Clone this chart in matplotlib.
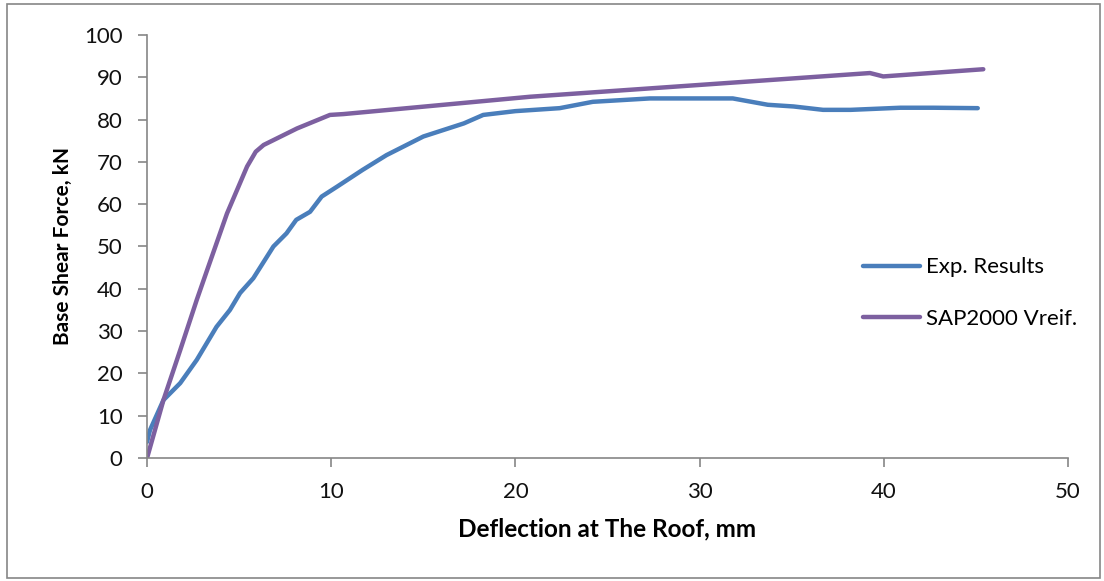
import matplotlib
matplotlib.use("Agg")
import matplotlib.pyplot as plt
from matplotlib.patches import Rectangle

plt.rcParams['font.family'] = ['Lato', 'DejaVu Sans']

# Experimental pushover curve
exp_x = [0.0, 0.16, 0.89, 1.8, 2.7, 3.77, 4.5, 5.05, 5.77, 6.86, 7.57, 8.1,
         8.85, 9.48, 10.3, 11.7, 13.0, 15.0, 17.2, 18.25, 20.0, 22.4, 24.2,
         27.3, 31.8, 33.7, 35.1, 36.7, 38.2, 40.9, 42.7, 45.1]
exp_y = [3.8, 6.6, 13.7, 17.7, 23.2, 31.0, 35.0, 39.0, 42.5, 50.0, 53.1, 56.3,
         58.2, 61.8, 64.1, 68.1, 71.6, 76.0, 79.1, 81.1, 82.0, 82.7, 84.2,
         85.0, 85.0, 83.5, 83.1, 82.3, 82.3, 82.8, 82.8, 82.7]

# SAP2000 verification curve
sap_x = [0.0, 0.89, 1.8, 2.7, 3.26, 4.34, 5.43, 5.9, 6.33, 8.14, 9.93, 10.66,
         20.8, 39.25, 39.97, 45.4]
sap_y = [0.0, 13.7, 25.5, 37.4, 44.4, 57.8, 68.9, 72.4, 74.0, 77.9, 81.1, 81.3,
         85.4, 91.0, 90.2, 91.9]

x_ticks = [0, 10, 20, 30, 40, 50]
y_ticks = [0, 10, 20, 30, 40, 50, 60, 70, 80, 90, 100]

fig = plt.figure(figsize=(11.04, 5.81), dpi=100)
ax = fig.add_axes([0.1332, 0.2117, 0.8342, 0.7281])

ax.plot(exp_x, exp_y, color='#4a7ebb', lw=3.2, solid_joinstyle='round',
        solid_capstyle='round', label='Exp. Results')
ax.plot(sap_x, sap_y, color='#7d60a0', lw=3.2, solid_joinstyle='round',
        solid_capstyle='round', label='SAP2000 Vreif.')

ax.set_xlim(0, 50)
ax.set_ylim(0, 100)
ax.set_xticks(x_ticks)
ax.set_yticks(y_ticks)
ax.tick_params(axis='both', direction='out', length=6.5, width=1.2,
               color='#868686', labelsize=16, labelcolor='#111111', pad=11)
for side in ('top', 'right'):
    ax.spines[side].set_visible(False)
for side in ('left', 'bottom'):
    ax.spines[side].set_color('#868686')
    ax.spines[side].set_linewidth(1.2)

ax.set_xlabel('Deflection at The Roof, mm', fontsize=17.5, fontweight='bold',
              labelpad=11)
ax.set_ylabel('Base Shear Force, kN', fontsize=15, fontweight='bold',
              labelpad=8)

ax.legend(loc='center left', bbox_to_anchor=(0.777, 0.39), frameon=False,
          fontsize=16, handlelength=2.6, handletextpad=0.25, labelspacing=1.4,
          borderpad=0, borderaxespad=0)

# Chart area frame
fig.patches.append(Rectangle((0.006, 0.005), 0.99, 0.988,
                             transform=fig.transFigure, fill=False,
                             edgecolor='#868686', lw=1.2))

fig.savefig('out.png', dpi=100)
